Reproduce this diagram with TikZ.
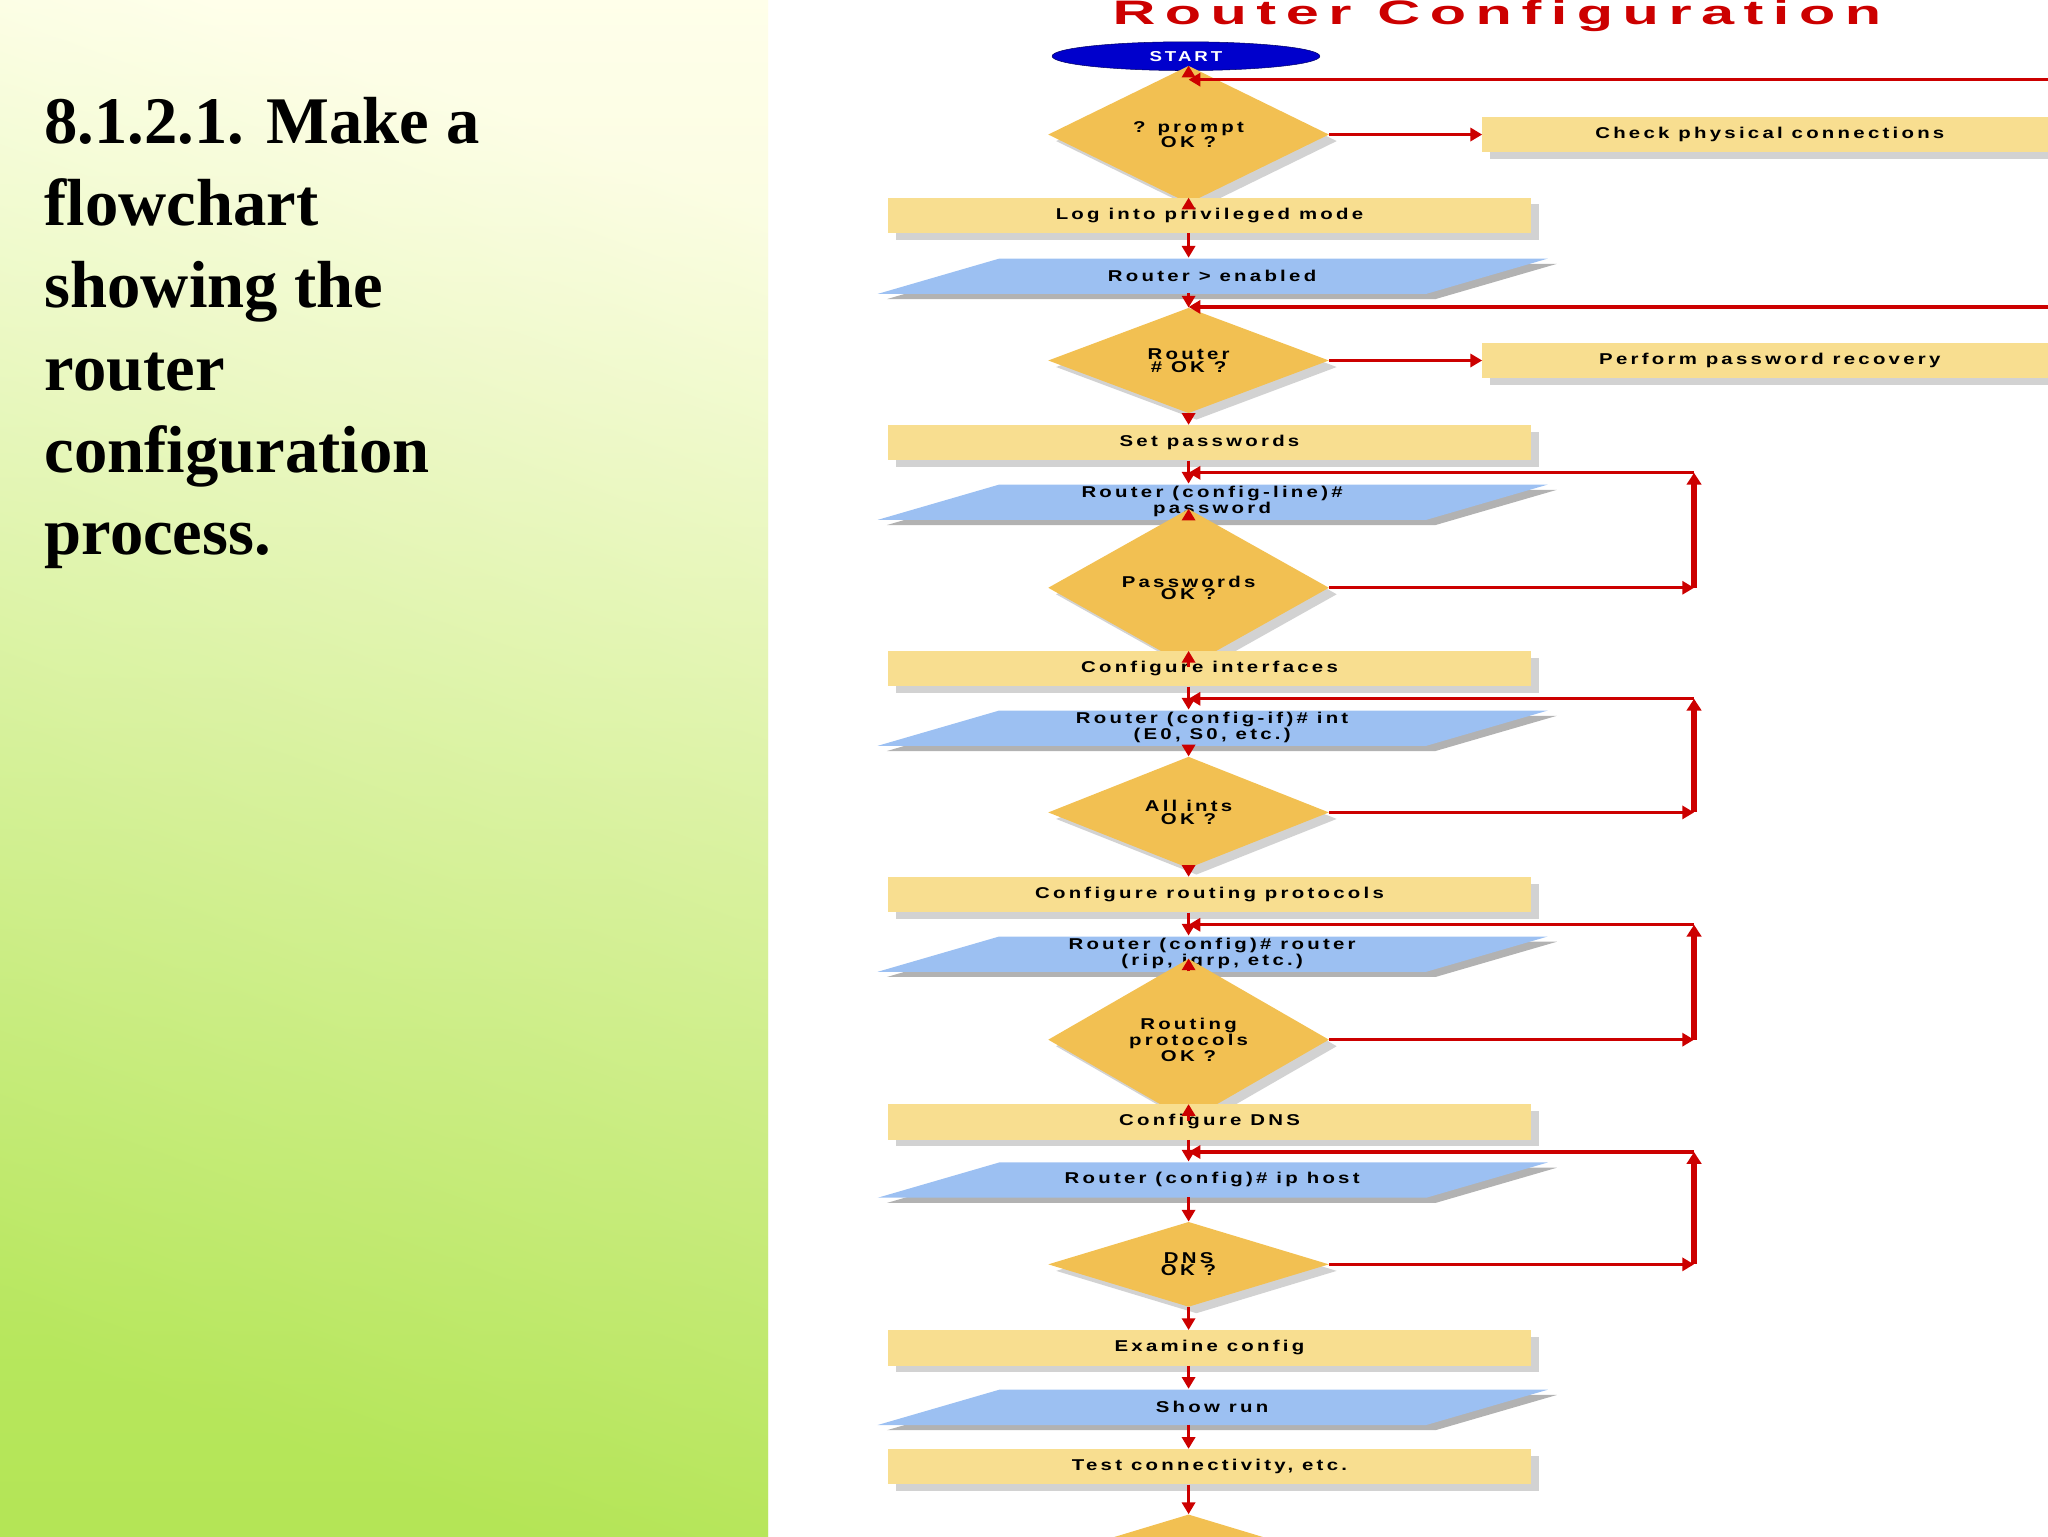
\documentclass[tikz,border=0pt]{standalone}
\usepackage{fontspec}
\setmainfont{Liberation Serif}
\newfontfamily\fc[LetterSpace=16]{Liberation Sans}
\usetikzlibrary{shapes.geometric,arrows.meta,shadows}
\definecolor{rfill}{HTML}{F8DE90}
\definecolor{dfill}{HTML}{F2C052}
\definecolor{pblue}{HTML}{9CC0F2}
\definecolor{ared}{HTML}{CC0000}
\newcommand\wdtxt[1]{\scalebox{1.3}[1]{#1}}
\tikzset{
  x=1pt,y=-1pt,
  rbox/.style={draw=none,fill=rfill,minimum width=492pt,minimum height=27pt,inner sep=0pt,font=\fc\bfseries\fontsize{12}{11}\selectfont,drop shadow={shadow xshift=6pt,shadow yshift=-5pt,fill=black!35}},
  dbox/.style={diamond,fill=dfill,minimum width=215pt,minimum height=65pt,inner sep=0pt,align=center,font=\fc\bfseries\fontsize{12}{9.5}\selectfont,drop shadow={shadow xshift=6pt,shadow yshift=-5pt,fill=black!35}},
  ptext/.style={minimum width=420pt,minimum height=27pt,inner sep=0pt,align=center,font=\fc\bfseries\fontsize{12}{9.5}\selectfont},
  arr/.style={draw=ared,line width=2.4pt,-{Triangle[length=9pt,width=10pt]}},
  vloop/.style={draw=ared,line width=4pt,-{Triangle[length=9pt,width=11pt]}},
}
\newcommand\pbox[3]{%
  \begin{scope}[shift={(0,#2)}]
  \fill[black!30] (679,18)--(772,-9)--(1192,-9)--(1099,18)--cycle;
  \fill[pblue] (672,14)--(765,-13)--(1185,-13)--(1092,14)--cycle;
  \end{scope}
  \node[ptext] (#1) at (928,#2) {#3};}
\begin{document}
\begin{tikzpicture}
\useasboundingbox (0,0) rectangle (1568,1176);
\clip (0,0) rectangle (1568,1176);
\shade[shading angle=-35,top color=white!95!yellow,bottom color=green!35!yellow!60!olive!60!white] (0,0) rectangle (588,1176);
\shade[left color=white!90!yellow,right color=green!45!yellow!75!olive!70!white,shading angle=-20,opacity=0.6] (0,0) rectangle (588,1176);
\node[anchor=north west,align=left,font=\bfseries\fontsize{51}{63}\selectfont,inner sep=0pt] (title) at (34,74) {8.1.2.1. Make a\\flowchart\\showing the\\router\\configuration\\process.};

\node[text=ared,font=\fc\bfseries\fontsize{26}{26}\selectfont] (head) at (1146,12) {\scalebox{1.75}[1]{Router Configuration}};

\node[ellipse,fill=blue!80!black,draw=blue!40!black,minimum width=205pt,minimum height=22pt,inner sep=0pt,text=white,font=\fc\bfseries\fontsize{11}{10}\selectfont] (start) at (908,43) {\wdtxt{START}};
\node[dbox] (d1) at (910,103) {\wdtxt{? prompt}\\\wdtxt{OK ?}};
\node[rbox,minimum width=440pt] (chk) at (1355,103) {\wdtxt{Check physical connections}};
\node[rbox] (r1) at (926,165) {\wdtxt{Log into privileged mode}};
\pbox{p1}{211}{\wdtxt{Router > enabled}}
\node[dbox] (d2) at (910,276) {\wdtxt{Router}\\\wdtxt{\# OK ?}};
\node[rbox,minimum width=440pt] (pwr) at (1355,276) {\wdtxt{Perform password recovery}};
\node[rbox] (r2) at (926,339) {\wdtxt{Set passwords}};
\pbox{p2}{384}{\wdtxt{Router (config-line)\#}\\\wdtxt{password}}
\node[dbox] (d3) at (910,450) {\wdtxt{Passwords}\\\wdtxt{OK ?}};
\node[rbox] (r3) at (926,512) {\wdtxt{Configure interfaces}};
\pbox{p3}{557}{\wdtxt{Router (config-if)\# int}\\\wdtxt{(E0, S0, etc.)}}
\node[dbox] (d4) at (910,622) {\wdtxt{All ints}\\\wdtxt{OK ?}};
\node[rbox] (r4) at (926,685) {\wdtxt{Configure routing protocols}};
\pbox{p4}{730}{\wdtxt{Router (config)\# router}\\\wdtxt{(rip, igrp, etc.)}}
\node[dbox] (d5) at (910,796) {\wdtxt{Routing}\\\wdtxt{protocols}\\\wdtxt{OK ?}};
\node[rbox] (r5) at (926,859) {\wdtxt{Configure DNS}};
\pbox{p5}{903}{\wdtxt{Router (config)\# ip host}}
\node[dbox] (d6) at (910,968) {\wdtxt{DNS}\\\wdtxt{OK ?}};
\node[rbox] (r6) at (926,1032) {\wdtxt{Examine config}};
\pbox{p6}{1077}{\wdtxt{Show run}}
\node[rbox] (r7) at (926,1123) {\wdtxt{Test connectivity, etc.}};
\node[dbox] (d7) at (910,1192) {};

\draw[arr] (start.south -| d1) -- (d1.north);
\draw[arr] (d1.south) -- (r1.north -| d1);
\draw[arr] (r1.south -| d1) -- (p1.north -| d1);
\draw[arr] (p1.south -| d1) -- (d2.north);
\draw[arr] (d2.south) -- (r2.north -| d2);
\draw[arr] (r2.south -| d2) -- (p2.north -| d2);
\draw[arr] (p2.south -| d2) -- (d3.north);
\draw[arr] (d3.south) -- (r3.north -| d3);
\draw[arr] (r3.south -| d3) -- (p3.north -| d3);
\draw[arr] (p3.south -| d3) -- (d4.north);
\draw[arr] (d4.south) -- (r4.north -| d4);
\draw[arr] (r4.south -| d4) -- (p4.north -| d4);
\draw[arr] (p4.south -| d4) -- (d5.north);
\draw[arr] (d5.south) -- (r5.north -| d5);
\draw[arr] (r5.south -| d5) -- (p5.north -| d5);
\draw[arr] (p5.south -| d5) -- (d6.north);
\draw[arr] (d6.south) -- (r6.north -| d6);
\draw[arr] (r6.south -| d6) -- (p6.north -| d6);
\draw[arr] (p6.south -| d6) -- (r7.north -| d6);
\draw[arr] (r7.south -| d6) -- (d7.north);

\draw[arr] (d1.east) -- (chk.west);
\draw[arr] (d2.east) -- (pwr.west);
\coordinate (e1) at (1570,61);
\coordinate (e2) at (1570,235);
\draw[arr] (e1) -- (e1 -| d1);
\draw[arr] (e2) -- (e2 -| d2);

\foreach \d/\t in {d3/362,d4/535,d5/708,d6/882}{
  \coordinate (a\d) at (1297,\t);
  \draw[arr] (\d.east) -- (\d.east -| a\d);
  \draw[vloop] (\d.east -| a\d) -- (a\d);
  \draw[arr] (a\d) -- (a\d -| \d);
}
\end{tikzpicture}
\end{document}
